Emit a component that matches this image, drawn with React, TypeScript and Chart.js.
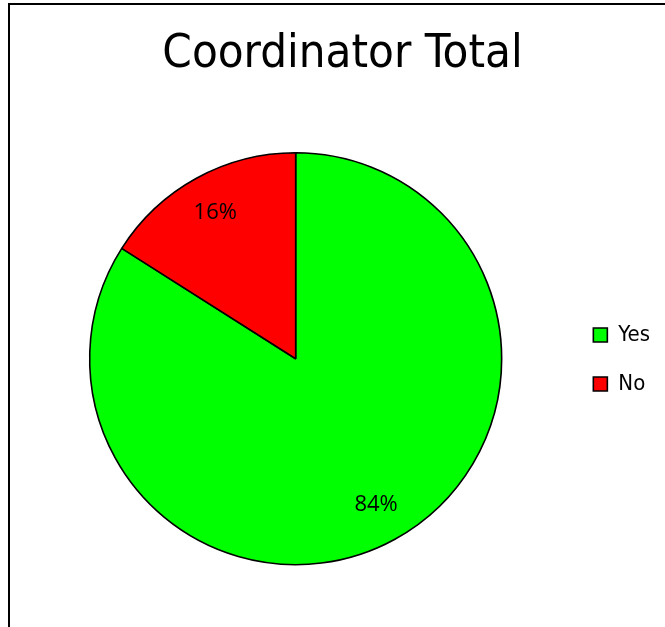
import React, { useEffect, useRef } from "react";
import { Chart, registerables } from "chart.js";

Chart.register(...registerables);

const categories = ["Yes", "No"];
const values = [84, 16];
const labelsText = ["84%", "16%"];
const colors = ["#00FF00", "#FF0000"];
const titleText = "Coordinator Total";

const sliceLabels = {
  id: "sliceLabels",
  afterDatasetsDraw(chart: any) {
    const ctx = chart.ctx;
    const meta = chart.getDatasetMeta(0);
    ctx.save();
    ctx.font = '22px "Open Sans", "Noto Sans", sans-serif';
    ctx.fillStyle = "#000";
    ctx.textAlign = "center";
    ctx.textBaseline = "middle";
    meta.data.forEach((arc: any, i: number) => {
      const p = arc.getProps(["x", "y", "startAngle", "endAngle", "outerRadius"], true);
      const mid = (p.startAngle + p.endAngle) / 2;
      const r = p.outerRadius * 0.81;
      ctx.fillText(labelsText[i], p.x + Math.cos(mid) * r, p.y + Math.sin(mid) * r);
    });
    ctx.restore();
  },
};

export default function App() {
  const ref = useRef<HTMLCanvasElement>(null);
  useEffect(() => {
    if (!ref.current) return;
    const chart = new Chart(ref.current, {
      type: "pie",
      data: {
        labels: categories,
        datasets: [
          {
            data: values,
            backgroundColor: colors,
            borderColor: "#000",
            borderWidth: 1.6,
          },
        ],
      },
      options: {
        responsive: false,
        animation: false,
        radius: 206,
        layout: { padding: { left: 25, right: 5, top: 0, bottom: 2 } },
        plugins: {
          title: {
            display: true,
            text: titleText,
            color: "#000",
            font: { family: '"Liberation Sans Narrow", "DejaVu Sans Condensed", sans-serif', size: 47, weight: "normal" },
            padding: { top: 27, bottom: 9 },
          },
          legend: {
            position: "right",
            title: { display: true, text: " ", font: { size: 20 }, padding: 35 },
            labels: {
              color: "#000",
              boxWidth: 14,
              boxHeight: 14,
              padding: 27,
              font: { family: '"Liberation Sans Narrow", "DejaVu Sans Condensed", sans-serif', size: 22 },
            },
          },
          tooltip: { enabled: false },
        },
      } as any,
      plugins: [sliceLabels],
    });
    return () => chart.destroy();
  }, []);
  return (
    <div style={{ position: "fixed", left: 0, top: 0, width: 665, height: 627, overflow: "hidden", background: "#fff" }}>
      <div
        style={{
          position: "absolute",
          left: 8,
          top: 3,
          width: 700,
          height: 700,
          border: "2px solid #000",
          boxSizing: "border-box",
        }}
      />
      <canvas ref={ref} width={665} height={627} style={{ position: "absolute", left: 0, top: 0 }} />
    </div>
  );
}
